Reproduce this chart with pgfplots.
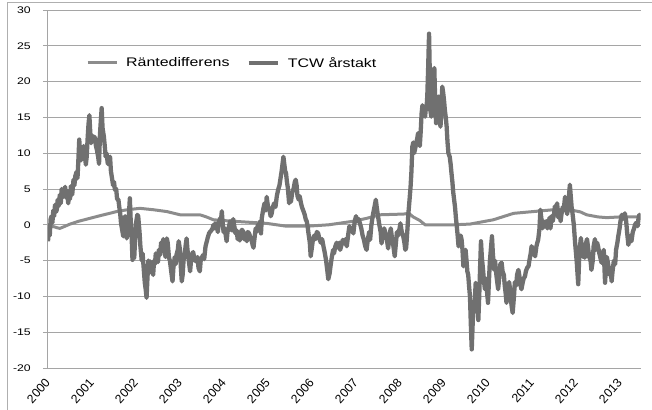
\documentclass[border=0pt]{standalone}
\usepackage{pgfplots}
\pgfplotsset{compat=1.18}
\usepackage{fontspec}
\setmainfont{Liberation Sans}[FakeStretch=1.28]
\newfontfamily\plainfont{Liberation Sans}
\definecolor{gridgray}{RGB}{165,165,165}
\definecolor{bordergray}{RGB}{175,175,175}
\definecolor{rdcol}{RGB}{140,140,140}
\definecolor{tcwcol}{RGB}{112,112,112}
\begin{document}
\begin{tikzpicture}
\begin{axis}[
  scale only axis,
  width=592.7bp, height=358bp,
  xmin=0, xmax=13.47,
  ymin=-20, ymax=30,
  ytick={-20,-15,...,30},
  xtick={0,1,...,13},
  xticklabels={2000,2001,2002,2003,2004,2005,2006,2007,2008,2009,2010,2011,2012,2013},
  axis lines*=left,
  x axis line style={draw=none},
  y axis line style={draw=gridgray, line width=1bp},
  ymajorgrids,
  grid style={draw=gridgray, line width=1bp},
  tick align=outside,
  major tick length=5bp,
  ytick style={draw=gridgray, line width=1bp},
  xtick style={draw=none},
  /pgf/number format/assume math mode=true,
  yticklabel style={font=\fontsize{9.6}{11}\selectfont, anchor=east, inner sep=0pt, xshift=-12bp},
  xticklabel style={font=\plainfont\fontsize{12.3}{13}\selectfont, rotate=48, anchor=east, inner sep=0pt, xshift=-6bp, yshift=-5bp},
  legend style={draw=none, fill=none, at={(rel axis cs:0.064,0.852)}, anchor=west,
    legend columns=2, inner sep=0pt, font=\fontsize{12.5}{14}\selectfont,
    nodes={inner sep=0pt},
    /tikz/every odd column/.append style={column sep=8bp},
    /tikz/every even column/.append style={column sep=17bp}},
  legend cell align=left,
  legend image code/.code={\draw[#1] (0bp,0bp) -- (29bp,0bp);},
]
\coordinate (O) at (rel axis cs:0,0);
\addplot[rdcol, line width=3bp, line join=round] table {
x y
0.00 0.0
0.10 -0.2
0.20 -0.4
0.27 -0.5
0.35 -0.3
0.50 0.1
0.70 0.5
0.95 0.9
1.20 1.3
1.40 1.6
1.56 1.85
1.80 2.1
2.09 2.3
2.40 2.1
2.70 1.85
3.00 1.4
3.45 1.4
3.60 1.1
3.76 0.7
4.20 0.5
4.97 0.2
5.42 -0.2
5.88 -0.2
6.38 0.0
6.94 0.5
7.24 0.9
7.55 1.4
8.08 1.5
8.20 1.6
8.30 1.1
8.45 0.6
8.57 0.0
9.21 0.0
9.59 0.1
10.12 0.7
10.58 1.6
11.03 1.85
11.48 2.1
11.94 2.0
12.10 1.8
12.24 1.4
12.50 1.1
12.70 1.0
13.00 1.1
13.45 1.1
};
\addlegendentry{Räntedifferens}
\addplot[tcwcol, line width=4.3bp, line join=round] table {
x y
0.00 -2.3
0.02 -0.5
0.04 -1.5
0.06 0.8
0.08 1.2
0.10 0.3
0.12 2.0
0.14 1.2
0.16 2.8
0.18 1.8
0.20 2.1
0.22 3.5
0.24 2.6
0.27 4.2
0.29 3.0
0.31 5.0
0.33 3.8
0.36 4.6
0.39 5.3
0.41 3.8
0.43 4.8
0.46 3.0
0.48 4.5
0.50 3.6
0.52 5.4
0.55 4.2
0.58 6.3
0.60 5.5
0.62 6.8
0.65 7.4
0.67 6.5
0.69 9.0
0.71 11.9
0.73 10.0
0.75 9.0
0.77 10.5
0.79 9.2
0.81 11.0
0.83 10.2
0.86 8.4
0.88 9.5
0.90 12.0
0.92 14.0
0.94 15.3
0.96 13.0
0.98 11.4
1.00 12.5
1.02 11.8
1.05 12.3
1.07 12.1
1.09 11.0
1.11 10.5
1.14 9.5
1.16 8.5
1.18 12.5
1.20 14.5
1.22 16.3
1.24 13.5
1.27 12.3
1.29 11.0
1.31 9.5
1.33 10.0
1.36 8.5
1.38 9.2
1.41 9.5
1.43 7.5
1.45 6.7
1.48 5.5
1.50 6.0
1.52 4.9
1.55 5.0
1.57 3.6
1.60 3.5
1.62 2.5
1.64 1.6
1.66 0.2
1.68 -0.5
1.71 -1.6
1.73 0.5
1.75 1.2
1.77 -0.8
1.79 -1.9
1.81 -0.5
1.84 1.5
1.86 3.7
1.88 0.5
1.90 -1.5
1.92 -4.9
1.94 -3.0
1.96 -4.6
1.98 -2.0
2.00 0.2
2.03 1.4
2.05 1.2
2.08 -1.0
2.10 -3.0
2.13 -5.0
2.15 -4.0
2.18 -6.5
2.20 -8.1
2.22 -9.0
2.24 -10.2
2.26 -7.5
2.28 -5.0
2.30 -6.0
2.32 -5.1
2.35 -6.7
2.37 -6.0
2.39 -7.0
2.41 -5.0
2.43 -5.5
2.45 -4.0
2.47 -4.6
2.50 -5.2
2.52 -3.5
2.55 -4.2
2.57 -2.5
2.60 -3.2
2.62 -2.0
2.64 -3.0
2.67 -4.5
2.70 -1.9
2.72 -2.5
2.75 -4.6
2.77 -5.0
2.80 -6.5
2.83 -7.9
2.85 -6.0
2.88 -4.5
2.90 -5.5
2.92 -4.2
2.95 -3.5
2.97 -2.3
3.00 -3.5
3.02 -6.0
3.04 -7.9
3.06 -7.0
3.08 -5.0
3.11 -4.0
3.13 -2.8
3.15 -1.9
3.17 -3.5
3.20 -5.0
3.23 -6.5
3.25 -5.0
3.28 -4.0
3.30 -3.8
3.33 -5.0
3.35 -4.5
3.38 -5.2
3.40 -4.5
3.42 -6.0
3.45 -6.5
3.47 -5.0
3.50 -4.5
3.53 -4.2
3.55 -4.8
3.58 -3.0
3.61 -2.3
3.63 -1.8
3.66 -1.2
3.68 -1.0
3.71 -0.8
3.74 -0.5
3.76 0.0
3.78 -0.5
3.80 0.2
3.83 0.0
3.86 -1.0
3.88 0.3
3.91 0.9
3.93 0.5
3.95 1.9
3.97 0.2
3.99 -1.0
4.02 -0.5
4.04 -1.5
4.06 -2.3
4.08 -1.0
4.11 -0.3
4.14 0.5
4.16 -0.5
4.18 -0.8
4.21 0.8
4.23 0.0
4.26 -1.2
4.29 -0.8
4.31 -2.0
4.34 -1.5
4.36 -2.2
4.38 -1.0
4.41 -0.7
4.44 -1.0
4.46 -2.0
4.49 -1.5
4.52 -2.3
4.54 -1.0
4.57 -1.2
4.59 -1.6
4.62 -2.0
4.65 -2.8
4.67 -3.2
4.70 -1.5
4.72 -0.5
4.74 -1.0
4.77 0.0
4.80 -0.5
4.82 0.5
4.84 -1.2
4.86 1.0
4.89 2.1
4.92 3.0
4.95 2.0
4.97 3.9
5.00 2.5
5.03 2.2
5.06 1.2
5.08 1.5
5.11 2.5
5.14 3.0
5.17 2.5
5.20 4.0
5.23 4.9
5.26 5.5
5.29 6.7
5.31 7.5
5.33 8.5
5.35 9.5
5.37 8.5
5.39 7.5
5.41 7.2
5.43 6.0
5.45 5.2
5.48 3.0
5.50 4.0
5.52 3.2
5.55 4.5
5.58 5.0
5.61 6.0
5.63 6.3
5.65 5.5
5.67 4.0
5.70 3.5
5.72 4.0
5.75 3.0
5.77 2.5
5.80 2.0
5.83 1.5
5.86 0.7
5.88 0.5
5.90 -0.2
5.92 -1.2
5.95 -2.5
5.97 -4.4
5.99 -3.5
6.02 -2.1
6.05 -1.5
6.08 -2.0
6.11 -1.0
6.14 -1.2
6.17 -2.0
6.20 -2.5
6.23 -2.0
6.26 -3.0
6.29 -3.9
6.32 -5.0
6.35 -6.5
6.37 -7.6
6.40 -6.8
6.42 -5.8
6.45 -4.5
6.48 -3.5
6.50 -4.0
6.53 -3.0
6.56 -2.5
6.59 -3.2
6.62 -2.5
6.64 -3.5
6.67 -2.8
6.70 -2.1
6.73 -2.6
6.76 -2.0
6.79 -3.0
6.82 -1.5
6.85 -0.2
6.88 -0.8
6.91 -0.5
6.94 -1.2
6.97 0.5
7.00 1.2
7.03 0.5
7.06 0.8
7.09 0.2
7.12 -0.5
7.15 -1.5
7.18 -2.1
7.21 -3.0
7.24 -3.5
7.27 -2.0
7.30 -1.0
7.32 -2.1
7.35 0.0
7.39 1.6
7.42 2.5
7.45 3.5
7.47 2.5
7.50 1.2
7.53 0.0
7.56 -1.0
7.58 -2.6
7.61 -1.5
7.64 -0.5
7.67 -1.2
7.70 -2.0
7.73 -3.3
7.76 -1.5
7.79 -0.5
7.82 -2.0
7.85 -3.0
7.88 -4.4
7.90 -3.0
7.93 -1.0
7.96 -1.5
7.99 -0.5
8.01 0.2
8.04 -1.0
8.07 -1.5
8.10 -2.5
8.12 -3.5
8.14 -3.2
8.17 -0.5
8.19 1.6
8.21 3.0
8.24 5.3
8.26 7.5
8.28 10.9
8.30 11.5
8.32 10.0
8.34 10.5
8.37 11.5
8.39 12.0
8.41 12.8
8.43 11.5
8.45 11.0
8.47 13.0
8.49 15.5
8.51 16.7
8.53 15.5
8.55 16.0
8.57 15.1
8.59 16.5
8.60 16.0
8.62 18.0
8.64 22.0
8.66 26.7
8.68 20.0
8.69 16.0
8.71 15.1
8.73 17.0
8.75 20.5
8.78 21.9
8.80 17.0
8.82 14.2
8.84 15.5
8.86 16.5
8.88 17.9
8.90 15.0
8.92 13.7
8.94 16.0
8.96 19.3
8.98 18.5
9.00 17.4
9.02 16.0
9.04 15.0
9.06 13.7
9.08 11.5
9.10 10.0
9.13 9.5
9.15 8.5
9.17 7.2
9.19 6.0
9.21 4.5
9.23 3.5
9.25 2.5
9.27 1.0
9.29 -0.2
9.31 -1.5
9.33 -3.0
9.36 -2.0
9.38 -1.5
9.40 -2.1
9.42 -3.5
9.44 -5.8
9.47 -4.0
9.49 -3.5
9.51 -4.9
9.53 -6.5
9.55 -7.0
9.57 -8.6
9.59 -10.0
9.61 -14.0
9.63 -17.4
9.65 -14.0
9.67 -11.0
9.70 -10.5
9.72 -8.1
9.74 -9.0
9.76 -11.5
9.78 -13.3
9.80 -10.0
9.82 -6.0
9.84 -2.3
9.86 -4.5
9.89 -6.5
9.91 -8.0
9.93 -9.0
9.95 -7.5
9.98 -9.5
10.00 -10.9
10.02 -8.0
10.04 -5.3
10.07 -3.0
10.09 -1.6
10.11 -4.0
10.14 -6.3
10.16 -5.0
10.19 -7.0
10.21 -8.0
10.23 -9.0
10.26 -7.0
10.28 -5.5
10.31 -5.3
10.33 -6.5
10.36 -7.0
10.38 -8.5
10.40 -9.5
10.42 -10.9
10.45 -9.5
10.48 -8.0
10.50 -9.0
10.52 -10.5
10.54 -11.5
10.56 -12.3
10.59 -10.0
10.61 -8.0
10.64 -8.5
10.66 -7.0
10.69 -6.3
10.71 -7.0
10.74 -8.5
10.76 -9.0
10.79 -8.0
10.81 -7.5
10.84 -7.2
10.86 -6.5
10.89 -6.0
10.92 -5.8
10.94 -5.0
10.97 -4.0
10.99 -3.0
11.02 -3.5
11.05 -4.0
11.07 -4.4
11.10 -3.0
11.12 -2.5
11.14 -2.1
11.17 -0.5
11.19 2.1
11.21 1.0
11.24 -0.5
11.26 0.5
11.29 0.2
11.32 0.5
11.35 -0.5
11.37 0.0
11.40 1.0
11.42 -0.5
11.44 1.2
11.47 0.5
11.50 1.5
11.52 2.6
11.55 1.5
11.57 3.0
11.60 1.0
11.63 2.0
11.65 0.5
11.67 1.5
11.70 2.5
11.72 2.0
11.75 3.9
11.77 2.5
11.80 1.5
11.82 2.8
11.84 4.0
11.86 5.6
11.88 4.0
11.90 2.5
11.92 1.6
11.95 0.0
11.98 -2.6
12.00 -4.0
12.02 -5.5
12.05 -8.3
12.07 -5.0
12.09 -3.0
12.11 -1.85
12.13 -3.0
12.16 -4.5
12.18 -3.0
12.20 -4.6
12.23 -2.5
12.25 -2.0
12.28 -3.5
12.30 -4.5
12.33 -5.0
12.35 -6.3
12.38 -5.0
12.40 -3.0
12.43 -2.0
12.45 -3.5
12.48 -2.5
12.50 -3.0
12.53 -4.0
12.55 -4.5
12.58 -5.3
12.60 -4.5
12.63 -3.5
12.66 -8.1
12.68 -6.0
12.70 -4.5
12.73 -5.5
12.76 -7.0
12.78 -6.0
12.81 -7.9
12.83 -6.5
12.86 -5.0
12.89 -5.5
12.91 -3.5
12.94 -2.5
12.96 -1.6
12.99 -0.5
13.01 0.5
13.04 1.4
13.06 0.8
13.09 1.2
13.11 1.6
13.14 0.5
13.16 -1.0
13.19 -2.8
13.21 -2.0
13.24 -1.5
13.26 -2.3
13.29 -1.0
13.32 -0.5
13.34 0.0
13.37 0.3
13.40 -0.2
13.42 0.9
13.44 1.4
13.45 1.0
};
\addlegendentry{TCW årstakt}
\end{axis}
\pgfresetboundingbox
\path[use as bounding box] ([shift={(-48bp,-42bp)}]O) rectangle ([shift={(604bp,368bp)}]O);
\draw[bordergray, line width=1bp] ([shift={(-40bp,-42bp)}]O) -- ([shift={(-40bp,365.5bp)}]O) -- ([shift={(604bp,365.5bp)}]O);
\end{tikzpicture}
\end{document}
